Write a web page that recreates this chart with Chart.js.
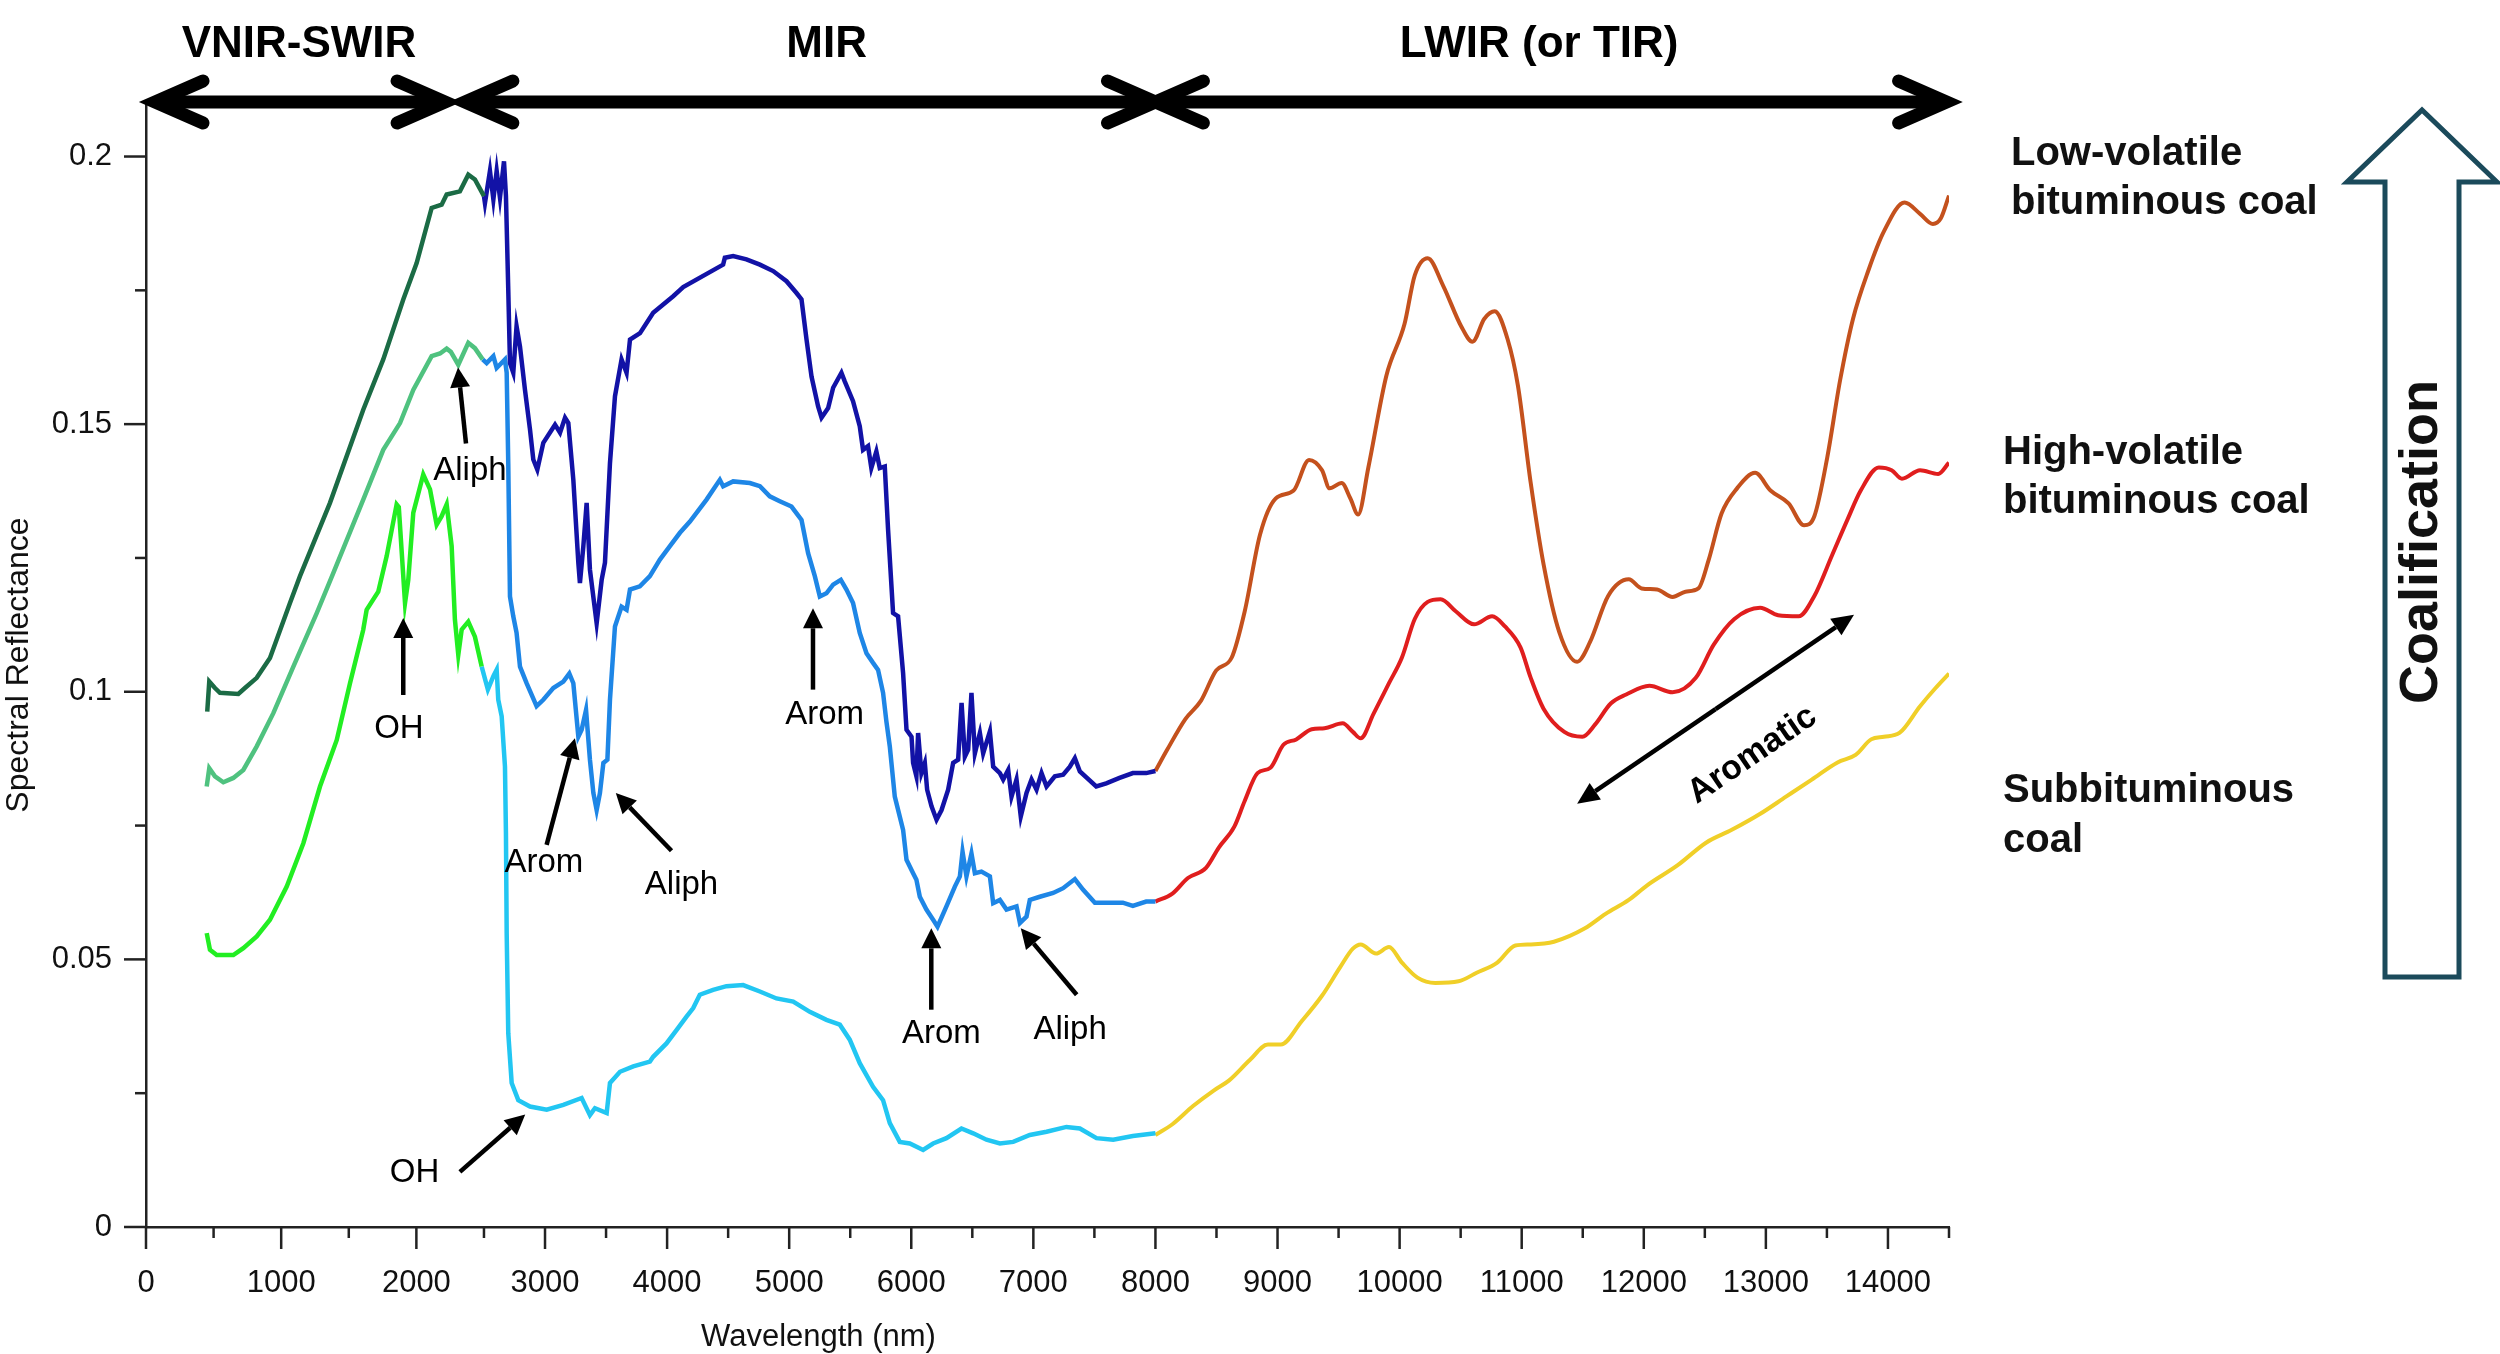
<!DOCTYPE html>
<html>
<head>
<meta charset="utf-8">
<title>Spectral reflectance of coals</title>
<script src="https://cdn.jsdelivr.net/npm/chart.js@4.4.1/dist/chart.umd.min.js"></script>
<style>
  html, body { margin: 0; padding: 0; background: #fff; }
  #wrap { width: 2500px; height: 1354px; }
</style>
</head>
<body>
<div id="wrap"><canvas id="coalChart" width="2500" height="1354"></canvas></div>
<script>
// --- data (wavelength in nm, reflectance) ---

// Low-volatile bituminous coal
const lowVnirX = [453, 468, 510, 547, 683, 732, 819, 917, 1065, 1139, 1361, 1607, 1755, 1903, 2002, 2113, 2187, 2224, 2322, 2384, 2433, 2500];
const lowVnirY = [0.0963, 0.1019, 0.1007, 0.0998, 0.0996, 0.1007, 0.1026, 0.1063, 0.1166, 0.1216, 0.1353, 0.1527, 0.1621, 0.1733, 0.1801, 0.1904, 0.1910, 0.1929, 0.1935, 0.1966, 0.1957, 0.1926];

const lowMirX = [2500, 2508, 2549, 2577, 2604, 2631, 2664, 2680, 2699, 2713, 2740, 2767, 2795, 2836, 2877, 2904, 2937, 2986, 3082, 3123,
  3164, 3191, 3232, 3273, 3286, 3314, 3341, 3368, 3423, 3464, 3491, 3532, 3573, 3627, 3668, 3696, 3778, 3886, 4050, 4132,
  4459, 4473, 4541, 4650, 4760, 4869, 4978, 5060, 5101, 5142, 5183, 5237, 5265, 5319, 5360, 5428, 5455, 5523, 5578, 5605,
  5646, 5673, 5714, 5742, 5783, 5810, 5851, 5892, 5933, 5961, 6002, 6015, 6042, 6056, 6083, 6111, 6130, 6166, 6207, 6248,
  6302, 6343, 6384, 6412, 6439, 6466, 6493, 6521, 6562, 6589, 6644, 6671, 6726, 6753, 6794, 6821, 6862, 6897, 6944, 6985,
  7026, 7067, 7108, 7176, 7244, 7299, 7340, 7381, 7515, 7597, 7706, 7815, 7924, 8000];
const lowMirY = [0.1926, 0.1913, 0.1973, 0.1920, 0.1973, 0.1923, 0.1991, 0.1926, 0.1751, 0.1614, 0.1596, 0.1683, 0.1645, 0.1564, 0.1490, 0.1434, 0.1415, 0.1465, 0.1499, 0.1484,
  0.1512, 0.1502, 0.1396, 0.1241, 0.1203, 0.1272, 0.1353, 0.1228, 0.1128, 0.1209, 0.1241, 0.1427, 0.1552, 0.1621, 0.1596, 0.1658, 0.1670, 0.1708, 0.1739, 0.1756,
  0.1798, 0.1811, 0.1814, 0.1808, 0.1798, 0.1786, 0.1767, 0.1745, 0.1733, 0.1658, 0.1589, 0.1533, 0.1512, 0.1530, 0.1568, 0.1596, 0.1580, 0.1543, 0.1496, 0.1452,
  0.1459, 0.1418, 0.1449, 0.1418, 0.1421, 0.1303, 0.1147, 0.1141, 0.1035, 0.0929, 0.0916, 0.0867, 0.0842, 0.0923, 0.0848, 0.0867, 0.0817, 0.0786, 0.0761, 0.0779,
  0.0817, 0.0867, 0.0873, 0.0979, 0.0879, 0.0892, 0.0998, 0.0885, 0.0923, 0.0885, 0.0926, 0.0860, 0.0848, 0.0836, 0.0854, 0.0804, 0.0836, 0.0767, 0.0811, 0.0836,
  0.0817, 0.0848, 0.0823, 0.0842, 0.0845, 0.0860, 0.0876, 0.0851, 0.0823, 0.0829, 0.0839, 0.0848, 0.0848, 0.0852];

const lowLwirX = [8000, 8097, 8245, 8372, 8498, 8625, 8731, 8857, 8984, 9132, 9258, 9364, 9427, 9525, 9597, 9660, 9744, 9892, 10040, 10124,
  10230, 10356, 10504, 10597, 10694, 10779, 10884, 10969, 11074, 11180, 11307, 11454, 11560, 11708, 11877, 11982, 12109, 12236, 12341, 12447,
  12531, 12637, 12764, 12912, 13038, 13186, 13313, 13397, 13503, 13608, 13714, 13841, 13967, 14136, 14263, 14368, 14432, 14500];
const lowLwirY = [0.0852, 0.0892, 0.0949, 0.0983, 0.1040, 0.1064, 0.1150, 0.1294, 0.1361, 0.1376, 0.1433, 0.1414, 0.1380, 0.1390, 0.1361, 0.1331, 0.1419, 0.1591, 0.1687, 0.1778,
  0.1810, 0.1759, 0.1683, 0.1654, 0.1697, 0.1711, 0.1659, 0.1572, 0.1390, 0.1237, 0.1112, 0.1056, 0.1093, 0.1179, 0.1210, 0.1193, 0.1191, 0.1177, 0.1187, 0.1193,
  0.1246, 0.1333, 0.1380, 0.1409, 0.1376, 0.1352, 0.1311, 0.1328, 0.1438, 0.1582, 0.1697, 0.1788, 0.1860, 0.1914, 0.1893, 0.1874, 0.1884, 0.1927];

// High-volatile bituminous coal
const highVnirX = [449, 468, 510, 572, 646, 720, 819, 942, 1090, 1263, 1386, 1607, 1755, 1879, 1977, 2113, 2175, 2224, 2255, 2310, 2384, 2433, 2490];
const highVnirY = [0.0823, 0.0857, 0.0842, 0.0831, 0.0839, 0.0854, 0.0898, 0.0960, 0.1047, 0.1147, 0.1222, 0.1359, 0.1452, 0.1502, 0.1564, 0.1627, 0.1632, 0.1641, 0.1635, 0.1611, 0.1652, 0.1642, 0.1621];

const highMirX = [2490, 2522, 2577, 2604, 2672, 2686, 2699, 2713, 2740, 2767, 2795, 2849, 2931, 2986, 3068, 3150, 3199, 3232, 3273, 3300,
  3336, 3368, 3396, 3423, 3450, 3478, 3511, 3532, 3573, 3627, 3668, 3696, 3777, 3859, 3941, 4023, 4105, 4187, 4323, 4432,
  4459, 4541, 4678, 4760, 4841, 4923, 5019, 5101, 5155, 5210, 5251, 5305, 5360, 5423, 5469, 5523, 5578, 5633, 5687, 5728,
  5769, 5796, 5824, 5865, 5933, 5961, 6015, 6042, 6070, 6124, 6179, 6215, 6288, 6357, 6398, 6420, 6452, 6493, 6521, 6575,
  6644, 6671, 6726, 6780, 6862, 6890, 6944, 6971, 7053, 7162, 7244, 7340, 7408, 7504, 7597, 7733, 7815, 7924, 8000];
const highMirY = [0.1621, 0.1614, 0.1627, 0.1605, 0.1621, 0.1596, 0.1427, 0.1178, 0.1141, 0.1110, 0.1047, 0.1016, 0.0973, 0.0985, 0.1007, 0.1019, 0.1034, 0.1016, 0.0916, 0.0929,
  0.0966, 0.0873, 0.0811, 0.0779, 0.0811, 0.0867, 0.0873, 0.0985, 0.1122, 0.1159, 0.1153, 0.1191, 0.1197, 0.1216, 0.1247, 0.1272, 0.1297, 0.1318, 0.1359, 0.1396,
  0.1384, 0.1393, 0.1390, 0.1384, 0.1365, 0.1356, 0.1346, 0.1321, 0.1259, 0.1216, 0.1178, 0.1184, 0.1200, 0.1209, 0.1191, 0.1166, 0.1110, 0.1072, 0.1054, 0.1041,
  0.0998, 0.0945, 0.0898, 0.0804, 0.0742, 0.0686, 0.0661, 0.0649, 0.0617, 0.0593, 0.0574, 0.0561, 0.0599, 0.0636, 0.0655, 0.0701, 0.0655, 0.0698, 0.0661, 0.0664,
  0.0655, 0.0605, 0.0611, 0.0593, 0.0599, 0.0568, 0.0580, 0.0611, 0.0617, 0.0624, 0.0633, 0.0650, 0.0630, 0.0606, 0.0606, 0.0606, 0.0600, 0.0608, 0.0608];

const highLwirX = [8000, 8139, 8266, 8414, 8519, 8646, 8731, 8836, 8942, 9048, 9153, 9280, 9385, 9533, 9617, 9681, 9787, 9913, 10019, 10124,
  10230, 10336, 10462, 10610, 10758, 10863, 10990, 11074, 11180, 11349, 11497, 11602, 11729, 11856, 12046, 12236, 12426, 12573, 12742, 12953,
  13100, 13269, 13397, 13544, 13671, 13777, 13925, 14030, 14115, 14263, 14411, 14500];
const highLwirY = [0.0608, 0.0623, 0.0652, 0.0671, 0.0709, 0.0748, 0.0796, 0.0848, 0.0858, 0.0901, 0.0911, 0.0930, 0.0932, 0.0941, 0.0925, 0.0913, 0.0959, 0.1016, 0.1064, 0.1136,
  0.1168, 0.1173, 0.1150, 0.1126, 0.1141, 0.1122, 0.1083, 0.1026, 0.0968, 0.0925, 0.0916, 0.0939, 0.0978, 0.0995, 0.1011, 0.0999, 0.1026, 0.1088, 0.1136, 0.1157,
  0.1143, 0.1141, 0.1179, 0.1256, 0.1323, 0.1376, 0.1419, 0.1414, 0.1398, 0.1414, 0.1407, 0.1428];

// Subbituminous coal
const subVnirX = [449, 473, 523, 646, 720, 819, 917, 1041, 1164, 1287, 1411, 1509, 1607, 1632, 1718, 1780, 1854, 1870, 1916, 1940,
  1977, 2051, 2101, 2150, 2187, 2224, 2261, 2285, 2310, 2335, 2384, 2433, 2483];
const subVnirY = [0.0549, 0.0518, 0.0508, 0.0508, 0.0521, 0.0543, 0.0574, 0.0636, 0.0717, 0.0823, 0.0910, 0.1016, 0.1116, 0.1153, 0.1187, 0.1253, 0.1350, 0.1345, 0.1166, 0.1209,
  0.1334, 0.1406, 0.1378, 0.1312, 0.1328, 0.1350, 0.1272, 0.1135, 0.1069, 0.1116, 0.1131, 0.1103, 0.1047];

const subMirX = [2483, 2532, 2577, 2604, 2617, 2645, 2672, 2680, 2686, 2699, 2727, 2781, 2877, 3014, 3150, 3300, 3368, 3409, 3505, 3532,
  3614, 3723, 3859, 3886, 3995, 4077, 4159, 4214, 4268, 4377, 4486, 4623, 4760, 4896, 5033, 5169, 5305, 5415, 5496, 5578,
  5687, 5769, 5824, 5906, 5988, 6097, 6179, 6288, 6411, 6507, 6616, 6726, 6835, 6971, 7108, 7271, 7381, 7517, 7654, 7815, 8000];
const subMirY = [0.1047, 0.1004, 0.1029, 0.1041, 0.0985, 0.0954, 0.0860, 0.0736, 0.0549, 0.0362, 0.0269, 0.0237, 0.0225, 0.0219, 0.0228, 0.0241, 0.0209, 0.0222, 0.0213, 0.0269,
  0.0290, 0.0300, 0.0309, 0.0318, 0.0343, 0.0368, 0.0393, 0.0409, 0.0434, 0.0443, 0.0450, 0.0452, 0.0440, 0.0427, 0.0421, 0.0402, 0.0387, 0.0378, 0.0350, 0.0306,
  0.0262, 0.0237, 0.0194, 0.0159, 0.0156, 0.0144, 0.0156, 0.0166, 0.0184, 0.0175, 0.0163, 0.0156, 0.0159, 0.0172, 0.0178, 0.0187, 0.0184, 0.0166, 0.0163, 0.0170, 0.0175];

const subLwirX = [8000, 8139, 8308, 8477, 8604, 8773, 8921, 9027, 9196, 9364, 9512, 9617, 9681, 9807, 9913, 10019, 10146, 10293, 10483, 10631,
  10800, 10948, 11074, 11264, 11518, 11687, 11877, 12025, 12278, 12510, 12721, 12954, 13165, 13376, 13587, 13735, 13862, 13967, 14094, 14263,
  14390, 14500];
const subLwirY = [0.0172, 0.0192, 0.0226, 0.0255, 0.0274, 0.0312, 0.0341, 0.0341, 0.0384, 0.0432, 0.0485, 0.0520, 0.0528, 0.0511, 0.0523, 0.0494, 0.0466, 0.0456, 0.0459, 0.0475,
  0.0494, 0.0526, 0.0528, 0.0533, 0.0558, 0.0585, 0.0611, 0.0638, 0.0676, 0.0718, 0.0742, 0.0772, 0.0804, 0.0836, 0.0868, 0.0882, 0.0911, 0.0916, 0.0923, 0.0973,
  0.1007, 0.1034];

// axis ticks
const xTickValues = [0, 500, 1000, 1500, 2000, 2500, 3000, 3500, 4000, 4500, 5000, 5500, 6000, 6500, 7000, 7500,
  8000, 8500, 9000, 9500, 10000, 10500, 11000, 11500, 12000, 12500, 13000, 13500, 14000, 14500];
const yTickValues = [0, 0.025, 0.05, 0.075, 0.1, 0.125, 0.15, 0.175, 0.2];

// spectral regions and band annotations
const regions = [
  { label: 'VNIR-SWIR', from: 67, to: 2212, mid: 1132 },
  { label: 'MIR', from: 2359, to: 8000, mid: 5307 },
  { label: 'LWIR (or TIR)', from: 8000, to: 14480, mid: 11143 }
];
const bandNotes = [
  { text: 'Aliph', tx: 2396, ty: 0.1413, from: [2367, 0.1464], to: [2308, 0.1606] },
  { text: 'OH', tx: 1871, ty: 0.0931, from: [1903, 0.0994], to: [1903, 0.1138] },
  { text: 'Arom', tx: 2991, ty: 0.0680, from: [3013, 0.0714], to: [3245, 0.0913] },
  { text: 'Aliph', tx: 4118, ty: 0.0639, from: [4036, 0.0703], to: [3580, 0.0811] },
  { text: 'Arom', tx: 5290, ty: 0.0957, from: [5195, 0.1004], to: [5195, 0.1156] },
  { text: 'Arom', tx: 6246, ty: 0.0361, from: [6164, 0.0406], to: [6164, 0.0558] },
  { text: 'Aliph', tx: 7301, ty: 0.0368, from: [7355, 0.0434], to: [6897, 0.0558] },
  { text: 'OH', tx: 1986, ty: 0.0101, from: [2322, 0.0103], to: [2838, 0.0210] }
];

const FONT = '"Liberation Sans", Arial, Helvetica, sans-serif';
const AXIS_COLOR = '#222';
const TEXT_COLOR = '#111';

// the x axis of the figure is stretched a little below 2500 nm
const BREAK_NM = 2500;
const BREAK_LIN = 2718;
const X_MAX = 14500;
function warp(v) {
  return v <= BREAK_NM ? v * BREAK_LIN / BREAK_NM
    : BREAK_LIN + (v - BREAK_NM) * (X_MAX - BREAK_LIN) / (X_MAX - BREAK_NM);
}
function unwarp(w) {
  return w <= BREAK_LIN ? w * BREAK_NM / BREAK_LIN
    : BREAK_NM + (w - BREAK_LIN) * (X_MAX - BREAK_NM) / (X_MAX - BREAK_LIN);
}
class WarpScale extends Chart.LinearScale {
  getPixelForValue(value) { return super.getPixelForValue(warp(value)); }
  getValueForPixel(pixel) { return unwarp(super.getValueForPixel(pixel)); }
}
WarpScale.id = 'warp';
WarpScale.defaults = Chart.LinearScale.defaults;
Chart.register(WarpScale);

function pts(xs, ys) {
  return xs.map((x, i) => ({ x: x, y: ys[i] }));
}
function series(label, xs, ys, color, smooth) {
  return {
    label: label,
    data: pts(xs, ys),
    borderColor: color,
    borderWidth: smooth ? 4 : 4.5,
    pointRadius: 0,
    fill: false,
    tension: 0,
    cubicInterpolationMode: smooth ? 'monotone' : 'default'
  };
}

function line(ctx, x1, y1, x2, y2) {
  ctx.beginPath(); ctx.moveTo(x1, y1); ctx.lineTo(x2, y2); ctx.stroke();
}
function arrow(ctx, x1, y1, x2, y2, lw, hl, hw) {
  const a = Math.atan2(y2 - y1, x2 - x1);
  const bx = x2 - hl * Math.cos(a), by = y2 - hl * Math.sin(a);
  ctx.lineWidth = lw;
  line(ctx, x1, y1, bx, by);
  ctx.beginPath();
  ctx.moveTo(x2, y2);
  ctx.lineTo(bx + hw * Math.sin(a), by - hw * Math.cos(a));
  ctx.lineTo(bx - hw * Math.sin(a), by + hw * Math.cos(a));
  ctx.closePath();
  ctx.fill();
}
function chevron(ctx, tx, ty, dir) {
  ctx.beginPath();
  ctx.moveTo(tx + dir * 48, ty - 21);
  ctx.lineTo(tx, ty);
  ctx.lineTo(tx + dir * 48, ty + 21);
  ctx.stroke();
}

const decorPlugin = {
  id: 'decor',
  afterDraw(chart) {
    const { ctx, chartArea: area, scales: { x, y } } = chart;
    ctx.save();

    // tick marks, long on labelled ticks
    ctx.strokeStyle = AXIS_COLOR;
    ctx.lineWidth = 2.5;
    xTickValues.forEach(v => {
      const p = x.getPixelForValue(v);
      line(ctx, p, area.bottom, p, area.bottom + (v % 1000 === 0 ? 22 : 11));
    });
    yTickValues.forEach(v => {
      const p = y.getPixelForValue(v);
      const major = Math.abs(v / 0.05 - Math.round(v / 0.05)) < 1e-6;
      line(ctx, area.left, p, area.left - (major ? 22 : 11), p);
    });

    // x axis title, set left of centre as in the figure
    ctx.fillStyle = TEXT_COLOR;
    ctx.font = '31px ' + FONT;
    ctx.textAlign = 'center';
    ctx.textBaseline = 'middle';
    ctx.fillText('Wavelength (nm)', x.getPixelForValue(5240), area.bottom + 110);

    // spectral regions on top
    ctx.strokeStyle = '#000';
    ctx.fillStyle = '#000';
    ctx.lineWidth = 13;
    ctx.lineJoin = 'miter';
    ctx.lineCap = 'round';
    const ay = area.top - 1;
    regions.forEach(r => {
      const x1 = x.getPixelForValue(r.from), x2 = x.getPixelForValue(r.to);
      line(ctx, x1 + 4, ay, x2 - 4, ay);
      chevron(ctx, x1, ay, 1);
      chevron(ctx, x2, ay, -1);
      ctx.font = 'bold 44px ' + FONT;
      ctx.fillText(r.label, x.getPixelForValue(r.mid), 45);
    });
    ctx.lineCap = 'butt';

    // band assignments
    ctx.font = '33px ' + FONT;
    bandNotes.forEach(n => {
      arrow(ctx, x.getPixelForValue(n.from[0]), y.getPixelForValue(n.from[1]),
        x.getPixelForValue(n.to[0]), y.getPixelForValue(n.to[1]), 4.5, 20, 10);
      ctx.fillText(n.text, x.getPixelForValue(n.tx), y.getPixelForValue(n.ty));
    });

    // aromatic double arrow in LWIR
    const p1 = [x.getPixelForValue(11454), y.getPixelForValue(0.0791)];
    const p2 = [x.getPixelForValue(13722), y.getPixelForValue(0.1144)];
    const mx = (p1[0] + p2[0]) / 2, my = (p1[1] + p2[1]) / 2;
    arrow(ctx, mx, my, p1[0], p1[1], 4.5, 22, 10);
    arrow(ctx, mx, my, p2[0], p2[1], 4.5, 22, 10);
    const ang = Math.atan2(p2[1] - p1[1], p2[0] - p1[0]);
    ctx.save();
    ctx.translate(x.getPixelForValue(12890), y.getPixelForValue(0.0882));
    ctx.rotate(ang);
    ctx.font = 'bold 34px ' + FONT;
    ctx.fillText('Aromatic', 0, 0);
    ctx.restore();

    // coal rank labels
    ctx.textAlign = 'left';
    ctx.font = 'bold 40px ' + FONT;
    ctx.fillStyle = TEXT_COLOR;
    const lx = area.right + 62, lx2 = area.right + 54;
    ctx.fillText('Low-volatile', lx, 154);
    ctx.fillText('bituminous coal', lx, 203);
    ctx.fillText('High-volatile', lx2, 453);
    ctx.fillText('bituminous coal', lx2, 502);
    ctx.fillText('Subbituminous', lx2, 791);
    ctx.fillText('coal', lx2, 841);

    // coalification arrow
    ctx.beginPath();
    ctx.moveTo(2385, 977);
    ctx.lineTo(2385, 182);
    ctx.lineTo(2347, 182);
    ctx.lineTo(2422, 110);
    ctx.lineTo(2497, 182);
    ctx.lineTo(2459, 182);
    ctx.lineTo(2459, 977);
    ctx.closePath();
    ctx.fillStyle = '#fff';
    ctx.fill();
    ctx.lineJoin = 'miter';
    ctx.lineWidth = 5;
    ctx.strokeStyle = '#1b4a5b';
    ctx.stroke();
    ctx.save();
    ctx.translate(2422, 542);
    ctx.rotate(-Math.PI / 2);
    ctx.textAlign = 'center';
    ctx.fillStyle = TEXT_COLOR;
    ctx.font = 'bold 54px ' + FONT;
    ctx.fillText('Coalification', 0, 0);
    ctx.restore();

    ctx.restore();
  }
};

const ctx = document.getElementById('coalChart').getContext('2d');
const coalChart = new Chart(ctx, {
  type: 'line',
  data: {
    datasets: [
      series('Low-volatile VNIR-SWIR', lowVnirX, lowVnirY, '#1b6b45', false),
      series('High-volatile VNIR-SWIR', highVnirX, highVnirY, '#4fc27f', false),
      series('Subbituminous VNIR-SWIR', subVnirX, subVnirY, '#22ee22', false),
      series('Low-volatile MIR', lowMirX, lowMirY, '#1212a6', false),
      series('High-volatile MIR', highMirX, highMirY, '#1e86e6', false),
      series('Subbituminous MIR', subMirX, subMirY, '#22c6f2', false),
      series('Low-volatile LWIR', lowLwirX, lowLwirY, '#c4511d', true),
      series('High-volatile LWIR', highLwirX, highLwirY, '#e01e1e', true),
      series('Subbituminous LWIR', subLwirX, subLwirY, '#f0cf28', true)
    ]
  },
  options: {
    responsive: false,
    devicePixelRatio: 1,
    animation: false,
    layout: { padding: { top: 103, right: 551, bottom: 0, left: 0 } },
    plugins: {
      legend: { display: false },
      tooltip: { enabled: false }
    },
    scales: {
      x: {
        type: 'warp',
        min: 0,
        max: 14500,
        afterBuildTicks: scale => { scale.ticks = xTickValues.map(v => ({ value: v })); },
        afterFit: scale => { scale.height = 127; },
        grid: { display: false, drawTicks: false },
        border: { display: true, color: AXIS_COLOR, width: 2.5 },
        ticks: {
          autoSkip: false,
          maxRotation: 0,
          padding: 38,
          color: TEXT_COLOR,
          font: { family: FONT, size: 31 },
          callback: value => (value % 1000 === 0 ? String(value) : '')
        }
      },
      y: {
        type: 'linear',
        min: 0,
        max: 0.21,
        afterBuildTicks: scale => { scale.ticks = yTickValues.map(v => ({ value: v })); },
        afterFit: scale => { scale.width = 146; },
        grid: { display: false, drawTicks: false },
        border: { display: true, color: AXIS_COLOR, width: 2.5 },
        title: {
          display: true,
          text: 'Spectral Reflectance',
          color: TEXT_COLOR,
          font: { family: FONT, size: 32 },
          padding: 0
        },
        ticks: {
          padding: 34,
          color: TEXT_COLOR,
          font: { family: FONT, size: 31 },
          callback: value => {
            const k = value / 0.05;
            return Math.abs(k - Math.round(k)) < 1e-6 ? String(Math.round(value * 1000) / 1000) : '';
          }
        }
      }
    }
  },
  plugins: [decorPlugin]
});
</script>
</body>
</html>
